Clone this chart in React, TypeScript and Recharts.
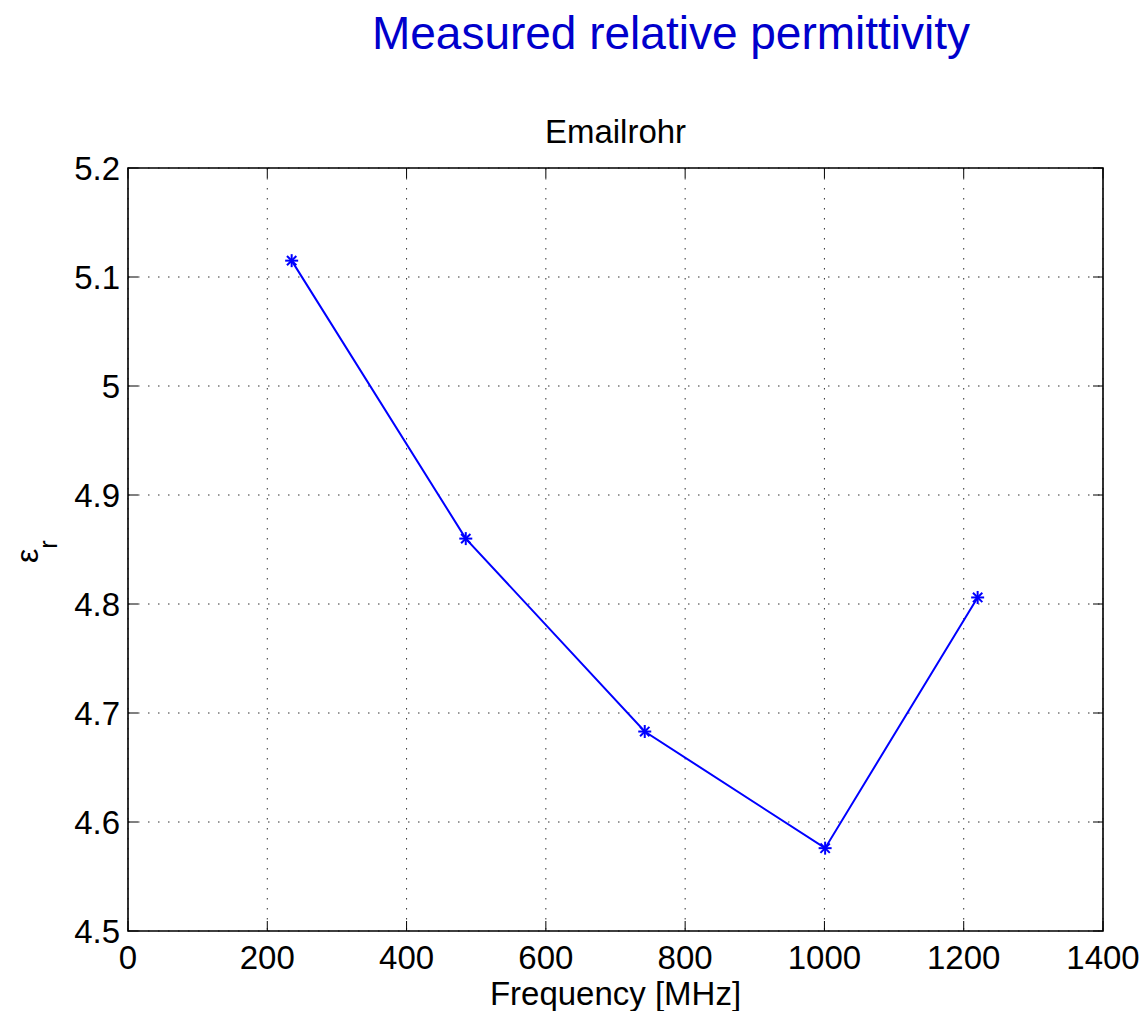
import React from 'react';
import { LineChart, Line, XAxis, YAxis, CartesianGrid, ReferenceArea } from 'recharts';

const frequencies = [235, 485, 742, 1001, 1220];
const permittivity = [5.115, 4.86, 4.683, 4.576, 4.806];

const xTicks = [0, 200, 400, 600, 800, 1000, 1200, 1400];
const yTicks = [4.5, 4.6, 4.7, 4.8, 4.9, 5.0, 5.1, 5.2];

const data = frequencies.map((f, i) => ({ freq: f, eps: permittivity[i] }));

const W = 1144;
const H = 1011;
const PLOT_LEFT = 128;
const PLOT_RIGHT = 1103;
const PLOT_TOP = 168;
const PLOT_BOTTOM = 931;
const FONT = '"Liberation Sans", Arial, Helvetica, sans-serif';
const TICK_LEN = 10;

const XTick = (props: any) => {
    const { x, payload } = props;
    return (
        <g>
            <line x1={x} x2={x} y1={PLOT_BOTTOM} y2={PLOT_BOTTOM - TICK_LEN} stroke="#000" strokeWidth={1} />
            <line x1={x} x2={x} y1={PLOT_TOP} y2={PLOT_TOP + TICK_LEN} stroke="#000" strokeWidth={1} />
            <text x={x} y={PLOT_BOTTOM + 14.5} dy="0.71em" textAnchor="middle" fontSize={33} fontFamily={FONT} fill="#000">
                {payload.value}
            </text>
        </g>
    );
};

const YTick = (props: any) => {
    const { y, payload } = props;
    return (
        <g>
            <line x1={PLOT_LEFT} x2={PLOT_LEFT + TICK_LEN} y1={y} y2={y} stroke="#000" strokeWidth={1} />
            <line x1={PLOT_RIGHT} x2={PLOT_RIGHT - TICK_LEN} y1={y} y2={y} stroke="#000" strokeWidth={1} />
            <text x={PLOT_LEFT - 8} y={y} dy="0.355em" textAnchor="end" fontSize={33} fontFamily={FONT} fill="#000">
                {payload.value}
            </text>
        </g>
    );
};

const Asterisk = (props: any) => {
    const { cx, cy } = props;
    if (cx == null || cy == null) return null;
    const r = 6.5;
    const d = r * 0.72;
    return (
        <g stroke="#0000ff" strokeWidth={2}>
            <line x1={cx - r} x2={cx + r} y1={cy} y2={cy} />
            <line x1={cx} x2={cx} y1={cy - r} y2={cy + r} />
            <line x1={cx - d} x2={cx + d} y1={cy - d} y2={cy + d} />
            <line x1={cx - d} x2={cx + d} y1={cy + d} y2={cy - d} />
        </g>
    );
};

const YLabel = () => (
    <text x={38} y={563} transform="rotate(-90, 38, 563)" fontFamily={FONT} fill="#000">
        <tspan fontSize={32}>ε</tspan>
        <tspan fontSize={25} dy={19}>r</tspan>
    </text>
);

const XLabel = () => (
    <text x={(PLOT_LEFT + PLOT_RIGHT) / 2} y={1005} textAnchor="middle" fontSize={33} fontFamily={FONT} fill="#000">
        Frequency [MHz]
    </text>
);

export default function App() {
    return (
        <div style={{ position: 'absolute', left: 0, top: 0, width: W, height: H, background: '#fff' }}>
            <LineChart
                width={W}
                height={H}
                data={data}
                margin={{ top: PLOT_TOP, right: W - PLOT_RIGHT, bottom: 0, left: 0 }}
            >
                <CartesianGrid
                    stroke="#333"
                    strokeDasharray="1.5 8.5"
                    strokeWidth={1}
                    horizontalValues={yTicks}
                    verticalValues={xTicks}
                />
                <XAxis
                    dataKey="freq"
                    type="number"
                    domain={[0, 1400]}
                    ticks={xTicks}
                    height={H - PLOT_BOTTOM}
                    axisLine={false}
                    tickLine={false}
                    tick={<XTick />}
                    interval={0}
                    label={{ content: () => <XLabel /> }}
                />
                <YAxis
                    type="number"
                    domain={[4.5, 5.2]}
                    ticks={yTicks}
                    width={PLOT_LEFT}
                    axisLine={false}
                    tickLine={false}
                    tick={<YTick />}
                    interval={0}
                    label={{ content: () => <YLabel /> }}
                />
                <ReferenceArea x1={0} x2={1400} y1={4.5} y2={5.2} fill="none" stroke="#000" strokeWidth={1.6} ifOverflow="visible" />
                <Line
                    type="linear"
                    dataKey="eps"
                    stroke="#0000ff"
                    strokeWidth={2}
                    dot={<Asterisk />}
                    activeDot={false}
                    isAnimationActive={false}
                />
            </LineChart>
            <svg width={W} height={H} style={{ position: 'absolute', left: 0, top: 0, pointerEvents: 'none' }}>
                <text x={671} y={49} textAnchor="middle" fontSize={46} fontFamily={FONT} fill="#0000cc">
                    Measured relative permittivity
                </text>
                <text x={(PLOT_LEFT + PLOT_RIGHT) / 2} y={143} textAnchor="middle" fontSize={33} fontFamily={FONT} fill="#000">
                    Emailrohr
                </text>
            </svg>
        </div>
    );
}
